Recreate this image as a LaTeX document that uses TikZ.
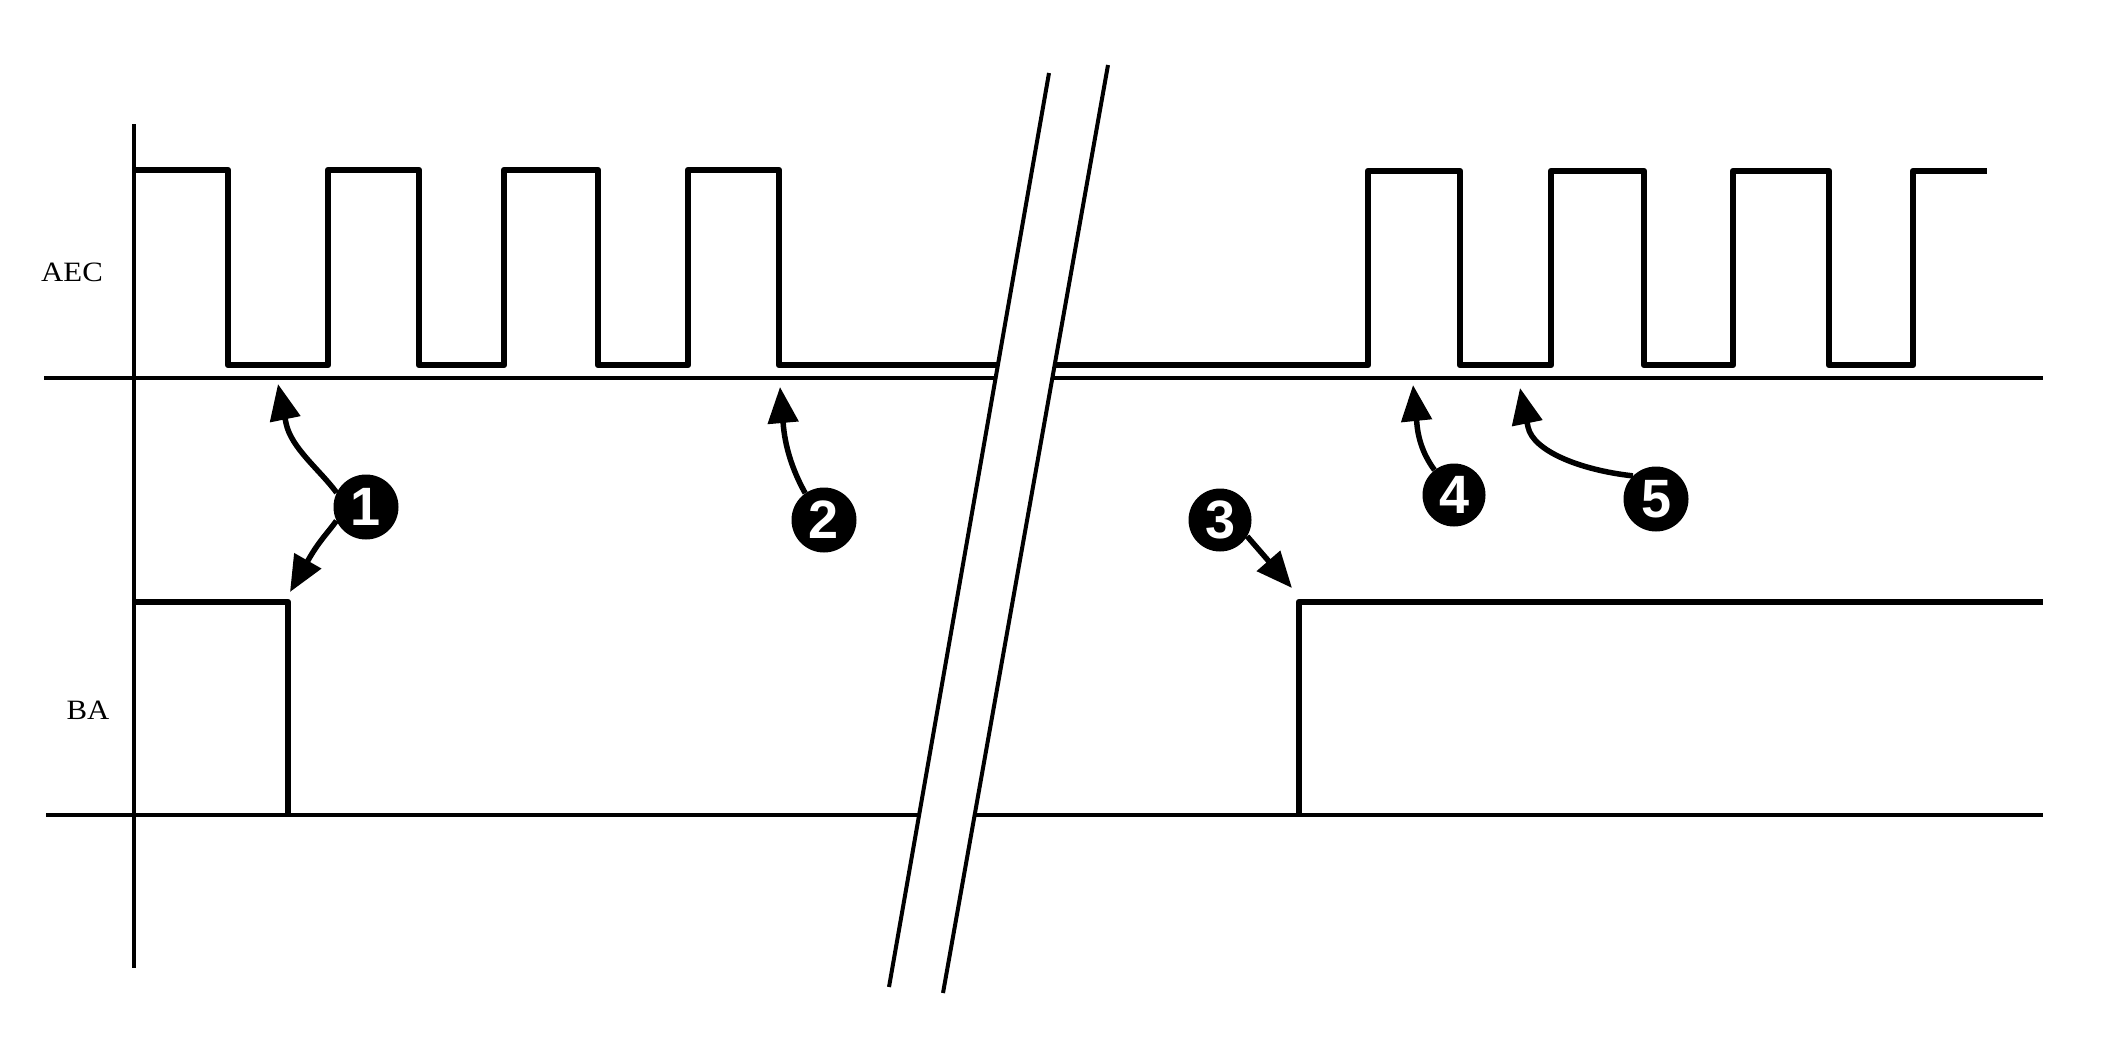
\documentclass[tikz,border=0pt]{standalone}
\usepackage{fontspec}
\setmainfont{Liberation Serif}
\newfontfamily\numfont{Liberation Sans}
\usetikzlibrary{arrows.meta}
\begin{document}
\begin{tikzpicture}[x=1pt,y=1pt,
  sig/.style={line width=6.5pt,line join=round,line cap=butt},
  base/.style={line width=4.5pt},
  axis/.style={line width=3.5pt},
  brk/.style={line width=4pt},
  arr/.style={line width=5.5pt,line join=round,-{Triangle[width=30pt,length=36pt]}},
  numcirc/.style={circle,fill=black,text=white,minimum size=65pt,inner sep=0pt,
    font=\numfont\bfseries\fontsize{54}{54}\selectfont},
  lbl/.style={inner sep=0pt,font=\fontsize{28}{28}\selectfont}]
\useasboundingbox (0,0) rectangle (2101,-1044);
\fill[white] (0,0) rectangle (2101,-1044);
% axis
\draw[axis] (134,-124) -- (134,-968);
% baselines
\draw[base] (44,-378) -- (2043,-378);
\draw[base] (46,-815) -- (2043,-815);
% AEC signal
\draw[sig] (136,-170) -- (228,-170) -- (228,-365) -- (328,-365) -- (328,-170)
  -- (419,-170) -- (419,-365) -- (504,-365) -- (504,-170) -- (598,-170)
  -- (598,-365) -- (688,-365) -- (688,-170) -- (779,-170) -- (779,-365)
  -- (1368,-365) -- (1368,-171) -- (1460,-171) -- (1460,-365) -- (1551,-365)
  -- (1551,-171) -- (1644,-171) -- (1644,-365) -- (1733,-365) -- (1733,-171)
  -- (1829,-171) -- (1829,-365) -- (1913,-365) -- (1913,-171) -- (1987,-171);
% BA signal
\draw[sig] (136,-602) -- (288,-602) -- (288,-815);
\draw[sig] (1299,-815) -- (1299,-602) -- (2043,-602);
% break
\fill[white] (889,-987) -- (1049,-73) -- (1108,-65) -- (943,-993) -- cycle;
\coordinate (b1a) at (889,-987);
\coordinate (b1b) at (1049,-73);
\coordinate (b2a) at (943,-993);
\coordinate (b2b) at (1108,-65);
\draw[brk] (b1a) -- (b1b);
\draw[brk] (b2a) -- (b2b);
% labels
\node[lbl] (aec) at (72,-272) {\scalebox{1.1}[1]{AEC}};
\node[lbl] (ba) at (88,-710) {\scalebox{1.1}[1]{BA}};
% numbered circles
\node[numcirc] (c1) at (366,-507) {1};
\node[numcirc] (c2) at (824,-520) {2};
\node[numcirc,minimum size=63pt] (c3) at (1220,-520) {3};
\node[numcirc,minimum size=63pt] (c4) at (1454,-495) {4};
\node[numcirc] (c5) at (1656,-499) {5};
% arrow tips
\coordinate (t1a) at (278,-384);
\coordinate (t1b) at (290,-592);
\coordinate (t2) at (780,-387);
\coordinate (t3) at (1292,-588);
\coordinate (t4) at (1413,-385);
\coordinate (t5) at (1520,-388);
\draw[arr] (c1.154) .. controls (320,-470) and (291,-448) .. (286,-423) -- (t1a);
\draw[arr] (c1.205) .. controls (330,-530) and (320,-540) .. (310,-557) -- (t1b);
\draw[arr] (c2.125) .. controls (795,-475) and (786,-452) .. (783.5,-427) -- (t2);
\draw[arr] (c3.-31) -- (t3);
\draw[arr] (c4.128) .. controls (1427,-460) and (1419,-445) .. (1417,-425) -- (t4);
\draw[arr] (c5.135) .. controls (1580,-470) and (1533,-451) .. (1528,-427) -- (t5);
\end{tikzpicture}
\end{document}
